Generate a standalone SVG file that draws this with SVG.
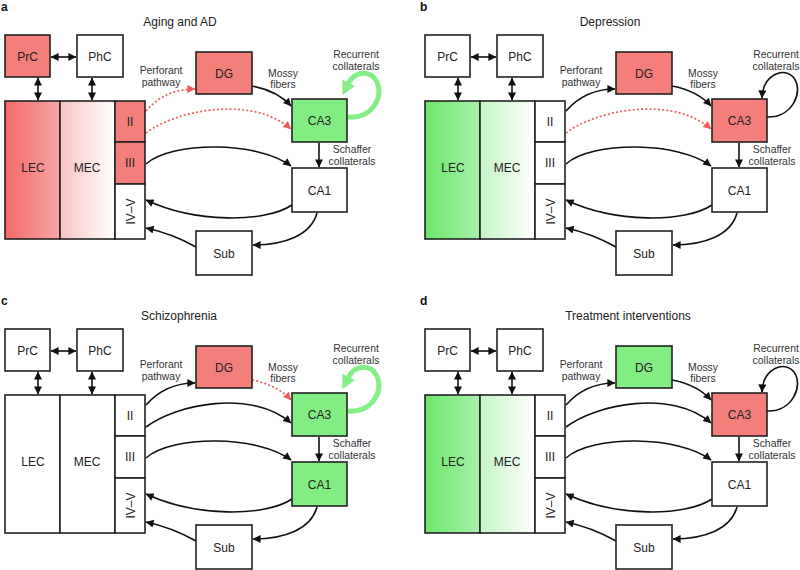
<svg xmlns="http://www.w3.org/2000/svg" width="800" height="570" viewBox="0 0 800 570">
<style>
text{font-family:"Liberation Sans",Arial,Helvetica,sans-serif;fill:#222;text-anchor:middle}
.bx{stroke:#222;stroke-width:1.6}
.w{fill:#fff}.r{fill:#f47f7a}.g{fill:#82ed82}
.lecR{fill:url(#lecR)}.mecR{fill:url(#mecR)}.lecG{fill:url(#lecG)}.mecG{fill:url(#mecG)}
.nl{font-size:12px}
.sm{font-size:10.4px;fill:#333}
.tt{font-size:12px;fill:#222}
.lt{font-size:12px;font-weight:bold;text-anchor:start;fill:#111}
.k{fill:none;stroke:#111;stroke-width:1.6;marker-end:url(#ak)}
.kd{fill:none;stroke:#111;stroke-width:1.6;marker-start:url(#ak);marker-end:url(#ak)}
.rd{fill:none;stroke:#ef5d5a;stroke-width:1.7;stroke-dasharray:2 2.2;marker-end:url(#ar)}
.gl{fill:none;stroke:#86ee86;stroke-width:5;marker-end:url(#ag)}
</style>
<defs>
<linearGradient id="lecR" x1="0" y1="0" x2="1" y2="0"><stop offset="0" stop-color="#f26a68"/><stop offset="1" stop-color="#f7a6a4"/></linearGradient>
<linearGradient id="mecR" x1="0" y1="0" x2="1" y2="0"><stop offset="0" stop-color="#f9c3c2"/><stop offset="1" stop-color="#ffffff"/></linearGradient>
<linearGradient id="lecG" x1="0" y1="0" x2="1" y2="0"><stop offset="0" stop-color="#6ae66a"/><stop offset="1" stop-color="#a9f0a9"/></linearGradient>
<linearGradient id="mecG" x1="0" y1="0" x2="1" y2="0"><stop offset="0" stop-color="#c4f5c4"/><stop offset="1" stop-color="#ffffff"/></linearGradient>
<marker id="ak" viewBox="0 0 10 10" refX="9.5" refY="5" markerWidth="9" markerHeight="8" markerUnits="userSpaceOnUse" orient="auto-start-reverse"><path d="M0,0 L10,5 L0,10 z" fill="#111"/></marker>
<marker id="ar" viewBox="0 0 10 10" refX="9.5" refY="5" markerWidth="9" markerHeight="8" markerUnits="userSpaceOnUse" orient="auto"><path d="M0,0 L10,5 L0,10 z" fill="#ef5d5a"/></marker>
<marker id="ag" viewBox="0 0 10 10" refX="1" refY="5" markerWidth="14" markerHeight="16" markerUnits="userSpaceOnUse" orient="auto"><path d="M0,0 L10,5 L0,10 z" fill="#86ee86"/></marker>
</defs>

<!-- Panel a -->
<g id="panel-a">
<text class="lt" x="1" y="11">a</text>
<text class="tt" x="180" y="26">Aging and AD</text>
<g id="a-connectors">
<path class="kd" d="M51,57 L76,57"/>
<path class="kd" d="M38,78 L38,100"/>
<path class="kd" d="M92,78 L92,100"/>
<path class="rd" d="M146,111 C160,95 176,89 195,89"/>
<path class="rd" d="M146,133 C176,110 252,95 291,129"/>
<path class="k" d="M252,86 C268,89 282,96 291,106"/>
<path class="gl" d="M348,117 C372,119 384,97 377,82 C371,70 355,70 348,84"/>
<path class="k" d="M319,143 L319,167"/>
<path class="k" d="M146,164 C172,141 258,141 291,166"/>
<path class="k" d="M292,205 C265,223 195,223 146,200"/>
<path class="k" d="M317,213 C311,235 285,245 253,245"/>
<path class="k" d="M196,247 C180,238 165,232 146,228"/>
<text class="sm" x="161" y="74">Perforant</text><text class="sm" x="161" y="86">pathway</text>
<text class="sm" x="283" y="77">Mossy</text><text class="sm" x="283" y="88">fibers</text>
<text class="sm" x="356" y="58">Recurrent</text><text class="sm" x="356" y="70">collaterals</text>
<text class="sm" x="352" y="153">Schaffer</text><text class="sm" x="352" y="165">collaterals</text>
</g>
<g id="a-PrC"><rect class="bx r" x="5" y="35" width="45" height="42"/><text class="nl" x="27.5" y="61">PrC</text></g>
<g id="a-PhC"><rect class="bx w" x="77" y="35" width="46" height="42"/><text class="nl" x="100" y="61">PhC</text></g>
<g id="a-LEC"><rect class="bx lecR" x="5" y="101" width="55" height="138"/><text class="nl" x="33" y="172">LEC</text></g>
<g id="a-MEC"><rect class="bx mecR" x="60" y="101" width="55" height="138"/><text class="nl" x="87" y="172">MEC</text></g>
<g id="a-II"><rect class="bx r" x="115" y="101" width="30" height="41"/><text class="nl" x="130" y="125.5">II</text></g>
<g id="a-III"><rect class="bx r" x="115" y="142" width="30" height="42"/><text class="nl" x="130" y="167">III</text></g>
<g id="a-IVV"><rect class="bx w" x="115" y="184" width="30" height="55"/><text class="nl" transform="translate(134.5,211.5) rotate(-90)">IV–V</text></g>
<g id="a-DG"><rect class="bx r" x="196" y="52" width="56" height="42"/><text class="nl" x="224" y="77.5">DG</text></g>
<g id="a-CA3"><rect class="bx g" x="292" y="99" width="55" height="43"/><text class="nl" x="319.5" y="125">CA3</text></g>
<g id="a-CA1"><rect class="bx w" x="292" y="168" width="55" height="44"/><text class="nl" x="319.5" y="194.5">CA1</text></g>
<g id="a-Sub"><rect class="bx w" x="196" y="231" width="56" height="44"/><text class="nl" x="224" y="257.5">Sub</text></g>
</g>

<!-- Panel b -->
<g id="panel-b" transform="translate(420,0)">
<text class="lt" x="0" y="11">b</text>
<text class="tt" x="190" y="26">Depression</text>
<g id="b-connectors">
<path class="kd" d="M51,57 L76,57"/>
<path class="kd" d="M38,78 L38,100"/>
<path class="kd" d="M92,78 L92,100"/>
<path class="k" d="M146,111 C160,95 176,89 195,89"/>
<path class="rd" d="M146,133 C176,110 252,95 291,129"/>
<path class="k" d="M252,86 C268,89 282,96 291,106"/>
<path class="k" d="M347,117 C372,118 384,92 374,78 C365,66 343,74 342,98"/>
<path class="k" d="M319,143 L319,167"/>
<path class="k" d="M146,164 C172,141 258,141 291,166"/>
<path class="k" d="M292,205 C265,223 195,223 146,200"/>
<path class="k" d="M317,213 C311,235 285,245 253,245"/>
<path class="k" d="M196,247 C180,238 165,232 146,228"/>
<text class="sm" x="161" y="74">Perforant</text><text class="sm" x="161" y="86">pathway</text>
<text class="sm" x="283" y="77">Mossy</text><text class="sm" x="283" y="88">fibers</text>
<text class="sm" x="356" y="58">Recurrent</text><text class="sm" x="356" y="70">collaterals</text>
<text class="sm" x="352" y="153">Schaffer</text><text class="sm" x="352" y="165">collaterals</text>
</g>
<g id="b-PrC"><rect class="bx w" x="5" y="35" width="45" height="42"/><text class="nl" x="27.5" y="61">PrC</text></g>
<g id="b-PhC"><rect class="bx w" x="77" y="35" width="46" height="42"/><text class="nl" x="100" y="61">PhC</text></g>
<g id="b-LEC"><rect class="bx lecG" x="5" y="101" width="55" height="138"/><text class="nl" x="33" y="172">LEC</text></g>
<g id="b-MEC"><rect class="bx mecG" x="60" y="101" width="55" height="138"/><text class="nl" x="87" y="172">MEC</text></g>
<g id="b-II"><rect class="bx w" x="115" y="101" width="30" height="41"/><text class="nl" x="130" y="125.5">II</text></g>
<g id="b-III"><rect class="bx w" x="115" y="142" width="30" height="42"/><text class="nl" x="130" y="167">III</text></g>
<g id="b-IVV"><rect class="bx w" x="115" y="184" width="30" height="55"/><text class="nl" transform="translate(134.5,211.5) rotate(-90)">IV–V</text></g>
<g id="b-DG"><rect class="bx r" x="196" y="52" width="56" height="42"/><text class="nl" x="224" y="77.5">DG</text></g>
<g id="b-CA3"><rect class="bx r" x="292" y="99" width="55" height="43"/><text class="nl" x="319.5" y="125">CA3</text></g>
<g id="b-CA1"><rect class="bx w" x="292" y="168" width="55" height="44"/><text class="nl" x="319.5" y="194.5">CA1</text></g>
<g id="b-Sub"><rect class="bx w" x="196" y="231" width="56" height="44"/><text class="nl" x="224" y="257.5">Sub</text></g>
</g>

<!-- Panel c -->
<g id="panel-c" transform="translate(0,294)">
<text class="lt" x="1" y="11">c</text>
<text class="tt" x="179" y="26">Schizophrenia</text>
<g id="c-connectors">
<path class="kd" d="M51,57 L76,57"/>
<path class="kd" d="M38,78 L38,100"/>
<path class="kd" d="M92,78 L92,100"/>
<path class="k" d="M146,111 C160,95 176,89 195,89"/>
<path class="k" d="M146,133 C176,110 252,95 291,129"/>
<path class="rd" d="M252,86 C268,89 282,96 291,106"/>
<path class="gl" d="M348,117 C372,119 384,97 377,82 C371,70 355,70 348,84"/>
<path class="k" d="M319,143 L319,167"/>
<path class="k" d="M146,164 C172,141 258,141 291,166"/>
<path class="k" d="M292,205 C265,223 195,223 146,200"/>
<path class="k" d="M317,213 C311,235 285,245 253,245"/>
<path class="k" d="M196,247 C180,238 165,232 146,228"/>
<text class="sm" x="161" y="74">Perforant</text><text class="sm" x="161" y="86">pathway</text>
<text class="sm" x="283" y="77">Mossy</text><text class="sm" x="283" y="88">fibers</text>
<text class="sm" x="356" y="58">Recurrent</text><text class="sm" x="356" y="70">collaterals</text>
<text class="sm" x="352" y="153">Schaffer</text><text class="sm" x="352" y="165">collaterals</text>
</g>
<g id="c-PrC"><rect class="bx w" x="5" y="35" width="45" height="42"/><text class="nl" x="27.5" y="61">PrC</text></g>
<g id="c-PhC"><rect class="bx w" x="77" y="35" width="46" height="42"/><text class="nl" x="100" y="61">PhC</text></g>
<g id="c-LEC"><rect class="bx w" x="5" y="101" width="55" height="138"/><text class="nl" x="33" y="172">LEC</text></g>
<g id="c-MEC"><rect class="bx w" x="60" y="101" width="55" height="138"/><text class="nl" x="87" y="172">MEC</text></g>
<g id="c-II"><rect class="bx w" x="115" y="101" width="30" height="41"/><text class="nl" x="130" y="125.5">II</text></g>
<g id="c-III"><rect class="bx w" x="115" y="142" width="30" height="42"/><text class="nl" x="130" y="167">III</text></g>
<g id="c-IVV"><rect class="bx w" x="115" y="184" width="30" height="55"/><text class="nl" transform="translate(134.5,211.5) rotate(-90)">IV–V</text></g>
<g id="c-DG"><rect class="bx r" x="196" y="52" width="56" height="42"/><text class="nl" x="224" y="77.5">DG</text></g>
<g id="c-CA3"><rect class="bx g" x="292" y="99" width="55" height="43"/><text class="nl" x="319.5" y="125">CA3</text></g>
<g id="c-CA1"><rect class="bx g" x="292" y="168" width="55" height="44"/><text class="nl" x="319.5" y="194.5">CA1</text></g>
<g id="c-Sub"><rect class="bx w" x="196" y="231" width="56" height="44"/><text class="nl" x="224" y="257.5">Sub</text></g>
</g>

<!-- Panel d -->
<g id="panel-d" transform="translate(420,294)">
<text class="lt" x="0" y="11">d</text>
<text class="tt" x="208" y="26">Treatment interventions</text>
<g id="d-connectors">
<path class="kd" d="M51,57 L76,57"/>
<path class="kd" d="M38,78 L38,100"/>
<path class="kd" d="M92,78 L92,100"/>
<path class="k" d="M146,111 C160,95 176,89 195,89"/>
<path class="k" d="M146,133 C176,110 252,95 291,129"/>
<path class="k" d="M252,86 C268,89 282,96 291,106"/>
<path class="k" d="M347,117 C372,118 384,92 374,78 C365,66 343,74 342,98"/>
<path class="k" d="M319,143 L319,167"/>
<path class="k" d="M146,164 C172,141 258,141 291,166"/>
<path class="k" d="M292,205 C265,223 195,223 146,200"/>
<path class="k" d="M317,213 C311,235 285,245 253,245"/>
<path class="k" d="M196,247 C180,238 165,232 146,228"/>
<text class="sm" x="161" y="74">Perforant</text><text class="sm" x="161" y="86">pathway</text>
<text class="sm" x="283" y="77">Mossy</text><text class="sm" x="283" y="88">fibers</text>
<text class="sm" x="356" y="58">Recurrent</text><text class="sm" x="356" y="70">collaterals</text>
<text class="sm" x="352" y="153">Schaffer</text><text class="sm" x="352" y="165">collaterals</text>
</g>
<g id="d-PrC"><rect class="bx w" x="5" y="35" width="45" height="42"/><text class="nl" x="27.5" y="61">PrC</text></g>
<g id="d-PhC"><rect class="bx w" x="77" y="35" width="46" height="42"/><text class="nl" x="100" y="61">PhC</text></g>
<g id="d-LEC"><rect class="bx lecG" x="5" y="101" width="55" height="138"/><text class="nl" x="33" y="172">LEC</text></g>
<g id="d-MEC"><rect class="bx mecG" x="60" y="101" width="55" height="138"/><text class="nl" x="87" y="172">MEC</text></g>
<g id="d-II"><rect class="bx w" x="115" y="101" width="30" height="41"/><text class="nl" x="130" y="125.5">II</text></g>
<g id="d-III"><rect class="bx w" x="115" y="142" width="30" height="42"/><text class="nl" x="130" y="167">III</text></g>
<g id="d-IVV"><rect class="bx w" x="115" y="184" width="30" height="55"/><text class="nl" transform="translate(134.5,211.5) rotate(-90)">IV–V</text></g>
<g id="d-DG"><rect class="bx g" x="196" y="52" width="56" height="42"/><text class="nl" x="224" y="77.5">DG</text></g>
<g id="d-CA3"><rect class="bx r" x="292" y="99" width="55" height="43"/><text class="nl" x="319.5" y="125">CA3</text></g>
<g id="d-CA1"><rect class="bx w" x="292" y="168" width="55" height="44"/><text class="nl" x="319.5" y="194.5">CA1</text></g>
<g id="d-Sub"><rect class="bx w" x="196" y="231" width="56" height="44"/><text class="nl" x="224" y="257.5">Sub</text></g>
</g>
</svg>
